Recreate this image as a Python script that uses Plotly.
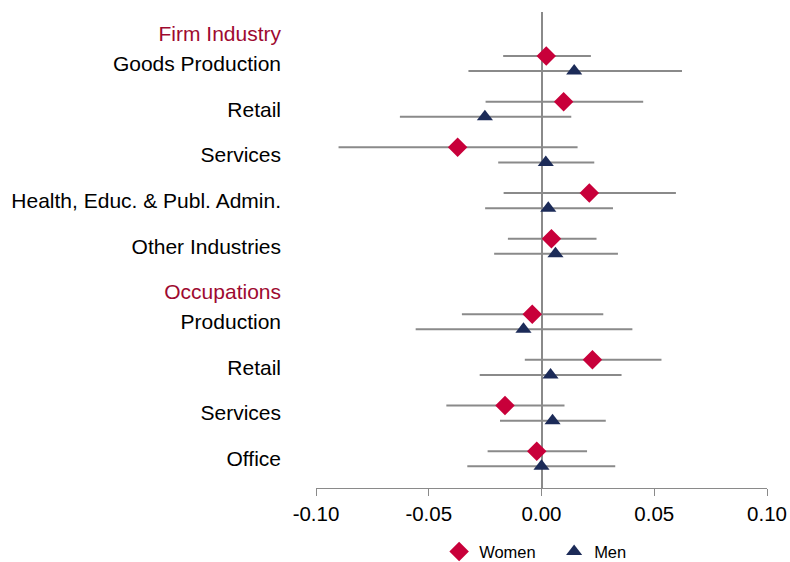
import plotly.graph_objects as go

# ---- data ----
industry_labels = ["Goods Production", "Retail", "Services",
                   "Health, Educ. & Publ. Admin.", "Other Industries"]
women_ind_coef = [0.0021, 0.0098, -0.0372, 0.0212, 0.0044]
women_ind_lo = [-0.0170, -0.0248, -0.0900, -0.0168, -0.0149]
women_ind_hi = [0.0219, 0.0451, 0.0160, 0.0596, 0.0244]
men_ind_coef = [0.0145, -0.0251, 0.0019, 0.0030, 0.0062]
men_ind_lo = [-0.0324, -0.0628, -0.0192, -0.0250, -0.0210]
men_ind_hi = [0.0623, 0.0132, 0.0234, 0.0317, 0.0339]

occupation_labels = ["Production", "Retail", "Services", "Office"]
women_occ_coef = [-0.0041, 0.0226, -0.0162, -0.0021]
women_occ_lo = [-0.0353, -0.0074, -0.0422, -0.0239]
women_occ_hi = [0.0274, 0.0532, 0.0102, 0.0202]
men_occ_coef = [-0.0080, 0.0040, 0.0049, 0.0000]
men_occ_lo = [-0.0558, -0.0274, -0.0184, -0.0329]
men_occ_hi = [0.0403, 0.0355, 0.0285, 0.0327]

group_titles = ["Firm Industry", "Occupations"]
x_ticks = [-0.10, -0.05, 0.00, 0.05, 0.10]
x_tick_labels = ["-0.10", "-0.05", "0.00", "0.05", "0.10"]
series_names = ["Women", "Men"]

# ---- layout positions ----
groups = [
    (group_titles[0], industry_labels,
     (women_ind_coef, women_ind_lo, women_ind_hi),
     (men_ind_coef, men_ind_lo, men_ind_hi)),
    (group_titles[1], occupation_labels,
     (women_occ_coef, women_occ_lo, women_occ_hi),
     (men_occ_coef, men_occ_lo, men_occ_hi)),
]

HEADER_GAP = 0.65
OFFSET = 0.165
tickvals, ticktext = [], []
w_y, w_x, w_lo, w_hi = [], [], [], []
m_y, m_x, m_lo, m_hi = [], [], [], []
header_pos = -HEADER_GAP
for title, labels, wd, md in groups:
    tickvals.append(header_pos)
    ticktext.append('<span style="color:#9E0A30">%s</span>' % title)
    pos = header_pos + HEADER_GAP
    for i, lab in enumerate(labels):
        tickvals.append(pos)
        ticktext.append(lab)
        w_y.append(pos - OFFSET); w_x.append(wd[0][i]); w_lo.append(wd[1][i]); w_hi.append(wd[2][i])
        m_y.append(pos + OFFSET); m_x.append(md[0][i]); m_lo.append(md[1][i]); m_hi.append(md[2][i])
        pos += 1
    header_pos = pos

font = "Liberation Sans, Arial, sans-serif"
bar_col = "#8a8a8a"

fig = go.Figure()
fig.add_trace(go.Scatter(
    x=w_x, y=w_y, mode="markers", name=series_names[0],
    marker=dict(symbol="diamond", size=15, color="#C8003A"),
    error_x=dict(type="data", symmetric=False,
                 array=[h - c for h, c in zip(w_hi, w_x)],
                 arrayminus=[c - l for c, l in zip(w_x, w_lo)],
                 color=bar_col, thickness=2, width=0),
))
fig.add_trace(go.Scatter(
    x=m_x, y=m_y, mode="markers", name=series_names[1],
    marker=dict(symbol="triangle-up", size=14, color="#1C2B58"),
    error_x=dict(type="data", symmetric=False,
                 array=[h - c for h, c in zip(m_hi, m_x)],
                 arrayminus=[c - l for c, l in zip(m_x, m_lo)],
                 color=bar_col, thickness=2, width=0),
))

fig.update_layout(
    width=790, height=562,
    margin=dict(l=316, r=23, t=12, b=74, autoexpand=False),
    paper_bgcolor="white", plot_bgcolor="white",
    font=dict(family=font, color="#000000", size=20),
    showlegend=True,
    legend=dict(orientation="h", x=0.528, xanchor="center", y=-0.134, yanchor="middle",
                font=dict(size=16.5, color="#000000"), itemsizing="trace",
                entrywidth=70, entrywidthmode="pixels"),
)
fig.update_xaxes(
    range=[-0.10, 0.10], tickvals=x_ticks, ticktext=x_tick_labels,
    showgrid=False, showline=True, linecolor=bar_col, linewidth=1.2,
    ticks="outside", ticklen=7, tickcolor=bar_col, tickwidth=1.2,
    zeroline=True, zerolinecolor=bar_col, zerolinewidth=1.5,
    tickfont=dict(size=20.5), automargin=False, ticklabeloverflow="allow",
)
fig.update_yaxes(
    range=[9.289, -1.127], tickvals=tickvals, ticktext=ticktext,
    showgrid=False, showline=False, zeroline=False, ticks="",
    ticklabelstandoff=34, tickfont=dict(size=21), automargin=False,
)

fig.write_html(
    "out.html",
    config={"displayModeBar": False},
    post_script="document.body.style.margin='0';document.body.style.overflow='hidden';",
)
